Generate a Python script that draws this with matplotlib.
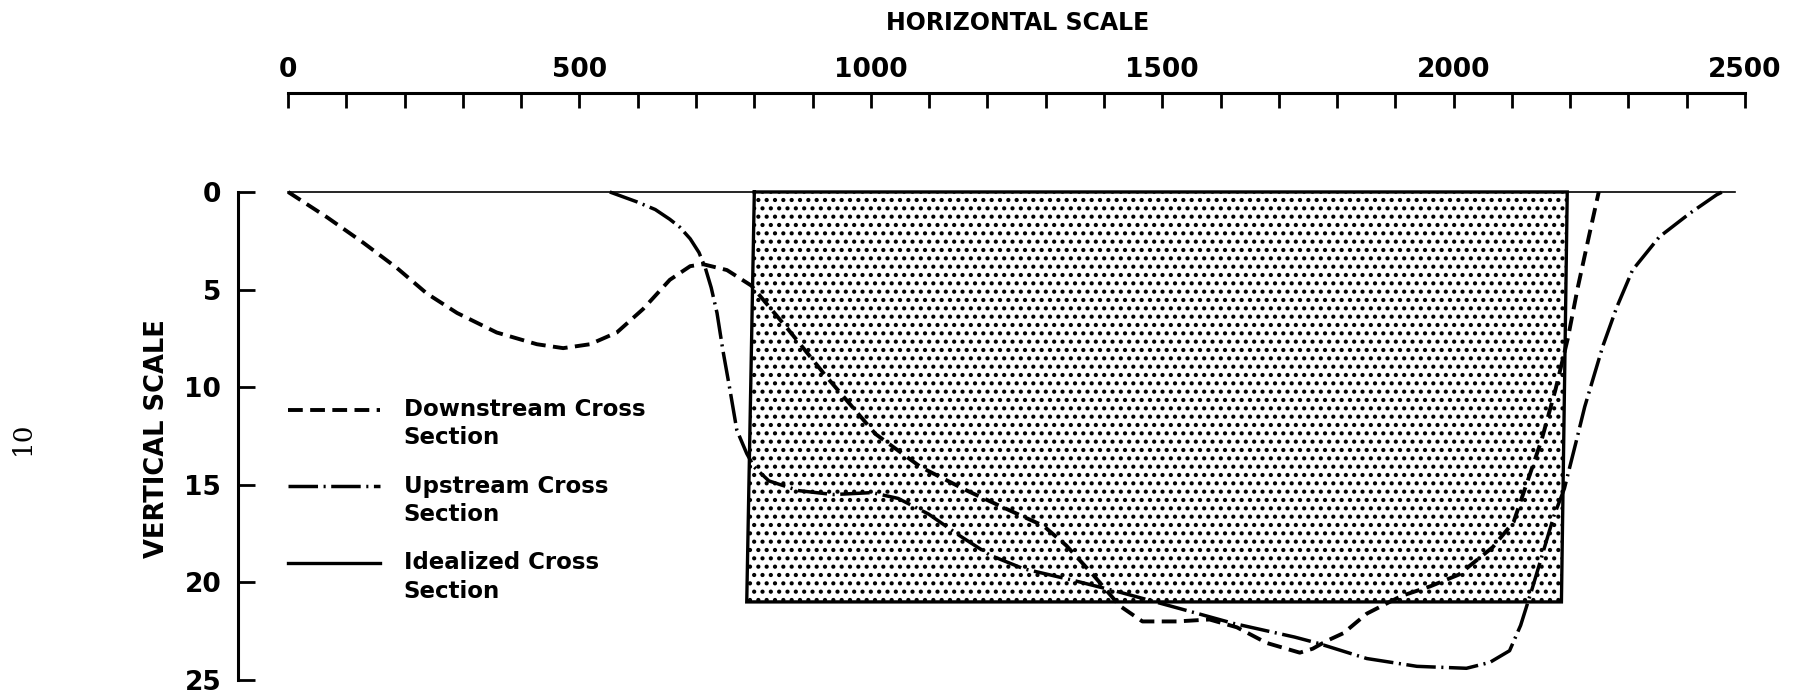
import matplotlib
matplotlib.use("Agg")
import matplotlib.pyplot as plt
import numpy as np

# ---------------- data (horizontal distance, depth) ----------------
downstream_x = [0, 67, 129, 187, 238, 290, 358, 427, 472, 518, 564, 609, 655, 690, 712,
                753, 795, 857, 922, 1008, 1086, 1165, 1230, 1296, 1335, 1381, 1427, 1466,
                1525, 1581, 1628, 1679, 1736, 1758, 1782, 1811, 1851, 1910, 1960, 2009,
                2067, 2103, 2127, 2151, 2175, 2196, 2213, 2232, 2249]
downstream_depth = [0, 1.3, 2.6, 3.9, 5.2, 6.2, 7.2, 7.8, 8.0, 7.8, 7.2, 6.0, 4.5, 3.8, 3.7,
                    4.0, 4.8, 7.0, 9.4, 12.4, 14.1, 15.3, 16.2, 17.1, 18.1, 19.6, 21.2, 22.0,
                    22.0, 21.9, 22.3, 23.1, 23.6, 23.4, 23.0, 22.6, 21.6, 20.7, 20.2, 19.6,
                    18.2, 16.9, 14.8, 12.7, 10.1, 7.5, 4.9, 2.3, 0]

upstream_x = [552, 598, 630, 655, 672, 690, 705, 716, 726, 736, 746, 758, 770, 787, 800, 825,
              876, 936, 1002, 1047, 1099, 1152, 1204, 1262, 1348, 1427, 1525, 1622, 1727,
              1765, 1851, 1937, 2022, 2062, 2096, 2115, 2135, 2155, 2172, 2190, 2211, 2225,
              2240, 2256, 2280, 2307, 2353, 2405, 2451, 2461]
upstream_depth = [0, 0.5, 0.9, 1.4, 1.8, 2.4, 3.1, 3.9, 4.9, 6.2, 8.1, 10.1, 12.2, 13.4, 14.1,
                  14.8, 15.3, 15.5, 15.4, 15.7, 16.5, 17.6, 18.6, 19.3, 19.9, 20.5, 21.3, 22.1,
                  22.8, 23.1, 23.9, 24.3, 24.4, 24.1, 23.5, 22.2, 20.3, 18.3, 16.6, 15.2, 12.7,
                  11.0, 9.5, 7.9, 5.9, 4.0, 2.3, 1.1, 0.15, 0]

ideal_x = [800, 2195, 2185, 787]
ideal_depth = [0, 0, 21, 21]

surface_x = [0, 2482]
surface_depth = [0, 0]

h_major = [0, 500, 1000, 1500, 2000, 2500]
h_minor = list(range(0, 2501, 100))
v_ticks = [0, 5, 10, 15, 20, 25]

legend_labels = ["Downstream Cross\nSection", "Upstream Cross\nSection", "Idealized Cross\nSection"]

# ---------------- figure ----------------
W, H = 1795, 697
fig = plt.figure(figsize=(W / 100, H / 100), dpi=100)
plt.rcParams["font.family"] = ["DejaVu Sans"]
plt.rcParams["hatch.linewidth"] = 1.8

ax = fig.add_axes([238 / W, 1 - 680 / H, (1745 - 238) / W, (680 - 93) / H])
ax.set_xlim(-86, 2500)
ax.set_ylim(25, -5.07)

# idealized cross section (dotted fill + outline)
ax.fill(ideal_x, ideal_depth, facecolor="white", edgecolor="black", hatch="..",
        linewidth=0, zorder=1)
l_ideal, = ax.plot(np.append(ideal_x, ideal_x[0]), np.append(ideal_depth, ideal_depth[0]),
                   color="black", lw=2.4, solid_joinstyle="miter", zorder=3)

# water surface line
ax.plot(surface_x, surface_depth, color="black", lw=1.2, zorder=2)

l_down, = ax.plot(downstream_x, downstream_depth, color="black", lw=2.8,
                  linestyle=(0, (3.8, 1.9)), zorder=4)
l_up, = ax.plot(upstream_x, upstream_depth, color="black", lw=2.5,
                linestyle=(0, (8.5, 1.6, 0.6, 1.6)), zorder=4)

# axes styling
for s in ["right", "bottom"]:
    ax.spines[s].set_visible(False)
ax.spines["top"].set_bounds(0, 2500)
ax.spines["left"].set_bounds(0, 25)
ax.spines["top"].set_linewidth(2.2)
ax.spines["left"].set_linewidth(2.2)

ax.xaxis.tick_top()
ax.set_xticks(h_major)
ax.set_xticks(h_minor, minor=True)
ax.tick_params(axis="x", which="both", direction="in", length=10.8, width=2.0,
               top=True, bottom=False, labeltop=True, labelbottom=False, pad=7)
ax.set_xticklabels([str(v) for v in h_major], fontsize=19, fontweight="bold")

ax.set_yticks(v_ticks)
ax.tick_params(axis="y", which="both", direction="in", length=12, width=2.0, pad=12)
ax.set_yticklabels([str(v) for v in v_ticks], fontsize=19, fontweight="bold")

fig.text(1018 / W, 1 - 23 / H, "HORIZONTAL SCALE", fontsize=17, fontweight="bold",
         ha="center", va="center")
fig.text(157 / W, 1 - 439 / H, "VERTICAL SCALE", fontsize=18.5, fontweight="bold",
         ha="center", va="center", rotation=90)
fig.text(22 / W, 1 - 438 / H, "10", fontsize=19, family=["DejaVu Serif"],
         ha="center", va="center", rotation=90)

leg_fs = 16.5
leg = ax.legend([l_down, l_up, l_ideal], legend_labels, loc="upper left",
                bbox_to_anchor=(288 / W, 1 - 398 / H), bbox_transform=fig.transFigure,
                frameon=False, borderpad=0, borderaxespad=0, handlelength=4.0,
                handletextpad=1.05, labelspacing=1.1,
                prop={"size": leg_fs, "weight": "bold"})
for t in leg.get_texts():
    t.set_linespacing(1.3)
# put each key line level with the first line of its two-line label
for ln in leg.get_lines():
    ln.set_ydata(np.asarray(ln.get_ydata()) + 0.5 * 1.3 * leg_fs)

fig.savefig("out.png", dpi=100, facecolor="white")
